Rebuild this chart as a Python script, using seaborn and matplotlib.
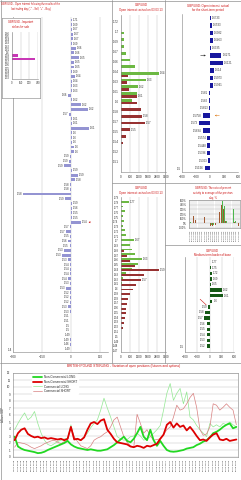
import numpy as np
import pandas as pd
import matplotlib
matplotlib.use("Agg")
import matplotlib.pyplot as plt
import seaborn as sns
from matplotlib.lines import Line2D
from matplotlib.ticker import MultipleLocator

# ---------------- DATA ----------------
left_labels = ["1.71","1.69","1.67","1.67","1.67","1.69","1.66","1.66","1.65","1.65",
               "1.65","1.69","1.64","1.64","1.63","1.63","1.66","1.62","1.62","1.62",
               "1.57","1.61","1.61","1.61","1.6","1.6","1.6","1.6","1.6","1.59",
               "1.59","1.59","1.59","1.59","1.58","1.58","1.58","1.58","1.59","1.59",
               "1.56","1.55","1.55","1.54","1.57","1.57","1.55","1.56","1.55","1.53",
               "1.53","1.53","1.54","1.54","1.54","1.54","1.53","1.53","1.52","1.52",
               "1.52","1.53","1.53","1.51","1.51","1.5","1.5","1.49","1.49","1.46","1.49"]
left_values = [5, 3, 3, 8, 10, 3, 25, 15, 38, 15,
               15, 4, 20, 4, 5, 3, -15, 4, 50, 85,
               -12, 3, 5, 90, 3, 4, 3, 15, 15, -8,
               -10, -35, 5, 35, 20, -6, -5, -250, -30, 5,
               4, 3, 6, 50, -8, -25, -6, -15, -8, -35,
               -45, -15, -4, -5, -4, -15, -4, -25, -6, -4,
               -4, -15, -5, -3, -3, -3, -3, -3, -4, -4, -3]
left_xticks = [-300, -150, 0, 150]

inset_strikes = ["1.66","1.65","1.64","1.63","1.62","1.61","1.6","1.59","1.58",
                 "1.57","1.56","1.55","1.54","1.53","1.52"]
inset_values = [0, 0, 0, 0, 0, 0, 0, 110, 400, 0, 0, 0, 0, 0, 0]
inset_xticks = [0, 150, 300, 450]

mt_strikes = [1.72, 1.71, 1.70, 1.69, 1.68, 1.67, 1.66, 1.65, 1.64, 1.63,
              1.62, 1.61, 1.60, 1.59, 1.58, 1.57, 1.56, 1.55, 1.54]
mt_calls = [0, 0, 170, 170, 200, 350, 620, 940, 2500, 1670,
            1150, 1040, 730, 0, 0, 0, 0, 0, 0]
mt_puts = [0, 0, 0, 0, 0, 0, 0, 0, 460, 420,
           520, 1040, 1040, 1350, 1400, 1600, 620, 310, 100]
mt_call_tags = ["", "", "", "", "", "", "", "", "1.64", "1.63",
                "1.62", "", "", "", "", "", "", "", ""]
mt_put_tags = ["", "", "", "", "", "", "", "", "", "",
               "", "1.61", "", "", "1.58", "1.57", "1.55", "", ""]
mt_yticks = [1.72, 1.705, 1.69, 1.675, 1.66, 1.645, 1.63, 1.615, 1.60,
             1.585, 1.57, 1.555, 1.54, 1.525, 1.51]
mt_yticklabels = ["1.72","1.7","1.69","1.67","1.66","1.64","1.63","1.61","1.6",
                  "1.58","1.57","1.55","1.54","1.52","1.51"]
mid_xticks = [0, 600, 1200, 1800, 2400, 3000]

mb_strikes = [1.78, 1.77, 1.76, 1.75, 1.74, 1.73, 1.72, 1.71, 1.70, 1.69,
              1.68, 1.67, 1.66, 1.65, 1.64, 1.63, 1.62, 1.61, 1.60, 1.59,
              1.58, 1.57, 1.56, 1.55, 1.54, 1.53, 1.52, 1.51, 1.50, 1.49, 1.48]
mb_calls = [500, 120, 250, 120, 200, 150, 250, 300, 870, 600,
            700, 900, 1400, 1100, 700, 300, 150, 60, 0, 0,
            0, 0, 0, 0, 0, 0, 0, 0, 0, 0, 0]
mb_puts = [0, 0, 0, 0, 0, 0, 0, 0, 0, 0,
           200, 400, 600, 900, 2550, 1500, 1300, 1000, 800, 600,
           450, 400, 350, 300, 250, 200, 100, 0, 0, 0, 0]
mb_call_tags = ["1.77", "", "", "", "", "", "", "", "1.67", "",
                "", "", "1.63", "", "", "", "", "", "", "",
                "", "", "", "", "", "", "", "", "", "", ""]
mb_put_tags = ["", "", "", "", "", "", "", "", "", "",
               "", "", "", "", "1.59", "", "1.57", "", "", "",
               "", "", "", "", "", "", "", "", "", "", ""]
mb_yticks = [1.79, 1.78, 1.77, 1.76, 1.75, 1.74, 1.73, 1.72, 1.71, 1.70,
             1.69, 1.68, 1.67, 1.66, 1.65, 1.64, 1.63, 1.62, 1.61, 1.60,
             1.59, 1.58, 1.57, 1.56, 1.55, 1.54, 1.53, 1.52, 1.51, 1.50,
             1.49, 1.48, 1.47]

rt_labels = ["1.6733","1.6533","1.6382","1.6463","1.6335","1.6271","1.6121",
             "1.614","1.5973","1.5941","1.581","1.582","1.5813","1.5758",
             "1.573","1.5694","1.5574","1.5448","1.5386","1.5303","1.5156"]
rt_values = [20, 40, 60, 60, 20, 240, 280, 80, 60, 60, -20, -20, -20, -160,
             -230, -150, -60, -60, -60, -40, -110]
side_xticks = [-600, -300, 0, 300, 600]

rm_dates = ["29.01.2013","30.01.2013","31.01.2013","01.02.2013","04.02.2013",
            "05.02.2013","06.02.2013","07.02.2013","08.02.2013","11.02.2013",
            "12.02.2013","13.02.2013","14.02.2013","15.02.2013","18.02.2013",
            "19.02.2013","20.02.2013","21.02.2013","22.02.2013","25.02.2013",
            "26.02.2013","27.02.2013","28.02.2013","01.03.2013"]
rm_brown = [0, 0, 150, 80, 0, 0, 0, 130, 0, 0, -50, -60, -40, 0, 250, 400,
            300, 40, 0, 0, 0, 30, 0, -50]
rm_green = [20, 10, 0, 0, 0, 0, 0, 0, 0, 0, -40, -30, 0, 10, 0, 470,
            380, 60, 0, 0, 300, 40, 0, 0]
rm_yticks = [-100, 0, 100, 200, 300, 400, 500]
rm_yticklabels = ["-100%", "0%", "100%", "200%", "300%", "400%", "500%"]

rb_labels = ["1.77","1.75","1.72","1.69","1.65","1.62","1.61","1.6","1.59",
             "1.58","1.57","1.56","1.55","1.54","1.53","1.52"]
rb_values = [20, 30, 50, 50, 30, 300, 330, 70, -40, -110, -140, -70, -70, -70, -70, -70]

bottom_dates = [
    "08.01.2008","05.02.2008","04.03.2008","01.04.2008","06.05.2008","03.06.2008",
    "01.07.2008","05.08.2008","02.09.2008","07.10.2008","04.11.2008","02.12.2008",
    "06.01.2009","03.02.2009","03.03.2009","07.04.2009","05.05.2009","02.06.2009",
    "07.07.2009","04.08.2009","01.09.2009","06.10.2009","03.11.2009","01.12.2009",
    "05.01.2010","02.02.2010","02.03.2010","06.04.2010","04.05.2010","01.06.2010",
    "06.07.2010","03.08.2010","07.09.2010","05.10.2010","02.11.2010","07.12.2010",
    "04.01.2011","01.02.2011","01.03.2011","05.04.2011","03.05.2011","07.06.2011",
    "05.07.2011","02.08.2011","06.09.2011","04.10.2011","01.11.2011","06.12.2011",
    "03.01.2012","07.02.2012","06.03.2012","03.04.2012","01.05.2012","05.06.2012",
    "03.07.2012","07.08.2012","04.09.2012","02.10.2012","06.11.2012","04.12.2012",
    "08.01.2013","05.02.2013","05.03.2013","02.04.2013","07.05.2013","04.06.2013",
    "02.07.2013","06.08.2013"]
nc_short = [2.4, 3.4, 3.9, 4.1, 3.3, 3.0, 2.8, 2.9, 2.7, 2.8, 2.6, 2.7, 2.6, 2.5, 2.6, 2.4,
            2.6, 4.3, 2.5, 2.6, 2.4, 2.8, 3.9, 4.8, 5.0, 4.7, 5.2, 5.4, 3.9, 3.3, 2.6, 2.1,
            2.0, 1.9, 1.8, 1.5, 1.4, 1.6, 1.5, 1.3, 1.6, 1.5, 1.7, 1.9, 2.6, 3.2, 4.6, 5.0,
            4.2, 4.8, 4.3, 4.5, 3.8, 4.3, 3.7, 3.0, 2.4, 2.5, 2.3, 2.8, 3.2, 3.4, 2.5, 2.4,
            2.6, 2.3, 2.4, 2.5]
nc_long = [2.9, 1.5, 1.2, 1.0, 0.9, 0.8, 0.7, 0.55, 0.6, 0.75, 1.0, 1.2, 1.4, 1.6, 1.8, 2.0,
           2.3, 1.8, 1.5, 1.3, 1.2, 1.1, 1.0, 1.1, 1.0, 0.9, 0.9, 1.0, 1.1, 1.4, 1.7, 2.1,
           2.5, 2.9, 2.3, 2.1, 2.6, 3.4, 4.3, 2.9, 2.4, 3.9, 2.4, 1.6, 2.3, 1.6, 1.0, 0.8,
           0.75, 0.8, 0.9, 1.0, 1.2, 1.3, 1.4, 1.7, 1.9, 2.2, 2.4, 2.8, 3.4, 3.6, 3.9, 4.3,
           4.6, 4.8, 4.1, 4.3]
c_long = [3.9, 4.8, 5.6, 6.3, 5.3, 5.7, 6.5, 4.8, 3.4, 2.4, 1.8, 1.6, 1.9, 2.2, 2.4, 2.6,
          2.6, 4.6, 2.6, 2.5, 2.4, 2.9, 3.4, 4.2, 4.8, 5.3, 6.7, 8.4, 7.0, 5.7, 4.3, 2.9,
          2.6, 2.4, 2.5, 2.9, 3.0, 3.4, 3.0, 2.4, 2.6, 2.9, 3.4, 3.9, 4.5, 6.7, 9.1, 10.5,
          8.1, 9.1, 9.8, 7.6, 9.3, 5.7, 5.3, 4.5, 3.9, 3.4, 2.9, 4.8, 4.3, 4.6, 4.3, 4.8,
          4.6, 5.0, 4.6, 4.3]
c_short = [1.4, 2.1, 2.0, 1.9, 1.7, 1.4, 1.2, 1.4, 1.6, 1.9, 2.1, 2.3, 2.4, 2.1, 1.9, 2.2,
           2.4, 4.3, 2.9, 2.2, 1.6, 1.4, 1.2, 1.6, 2.4, 2.7, 2.9, 3.3, 3.6, 4.3, 5.3, 5.7,
           4.3, 2.9, 2.1, 1.6, 1.4, 6.1, 4.8, 3.4, 3.9, 3.0, 2.4, 2.5, 2.6, 3.2, 3.9, 4.3,
           5.7, 7.4, 6.7, 6.9, 7.6, 8.5, 9.1, 7.1, 3.9, 3.1, 3.3, 4.3, 7.6, 7.4, 6.7, 7.1,
           7.6, 7.1, 6.7, 4.6]
bottom_yticks = [0, 1, 2, 3, 4, 5, 6, 7, 8, 9, 10, 11, 12]

# ---------------- STYLE ----------------
sns.set_theme(style="white")
plt.rcParams.update({
    "font.family": ["Liberation Sans", "DejaVu Sans"],
    "font.size": 2.2,
    "axes.linewidth": 0.4,
    "axes.edgecolor": "#808080",
    "xtick.major.size": 1, "ytick.major.size": 1,
    "xtick.major.width": 0.3, "ytick.major.width": 0.3,
    "xtick.minor.size": 0, "ytick.minor.size": 0,
    "xtick.major.pad": 0.8, "ytick.major.pad": 0.8,
    "xtick.labelsize": 2.2, "ytick.labelsize": 2.2,
    "xtick.color": "#303030", "ytick.color": "#303030",
    "grid.color": "#b8b8b8", "grid.linewidth": 0.3,
    "axes.facecolor": "white",
})

W, H = 241, 480
RED = "#cc1010"
TAG = 2.0
fig = plt.figure(figsize=(W / 100, H / 100), dpi=100, facecolor="white")


def px_axes(x0, y0, x1, y1):
    return fig.add_axes([x0 / W, 1 - y1 / H, (x1 - x0) / W, (y1 - y0) / H])


def fig_text(x, y, s, **kw):
    fig.text(x / W, 1 - y / H, s, **kw)


def fig_line(x0, y0, x1, y1):
    fig.add_artist(Line2D([x0 / W, x1 / W], [1 - y0 / H, 1 - y1 / H],
                          transform=fig.transFigure, color="#909090", lw=0.5))


def tag_bars(ax, vals, poss, tags, pad, fs=TAG):
    for v, p, t in zip(vals, poss, tags):
        if t == "":
            continue
        if v >= 0:
            ax.text(v + pad, p, t, ha="left", va="center", fontsize=fs, color="#303030")
        else:
            ax.text(v - pad, p, t, ha="right", va="center", fontsize=fs, color="#303030")


def clean(ax):
    ax.set_xlabel("")
    ax.set_ylabel("")


# ---------------- LEFT PANEL ----------------
axL = px_axes(13, 17, 108, 352)
posL = list(range(len(left_values)))
dfL = pd.DataFrame({"pos": posL, "val": left_values})
sns.barplot(data=dfL, x="val", y="pos", orient="y", native_scale=True,
            color="#8a8adc", width=0.62, errorbar=None, linewidth=0, ax=axL)
axL.set_ylim(len(left_values) - 0.4, -0.64)
axL.set_xlim(-300, 190)
axL.set_xticks(left_xticks)
axL.set_yticks([posL[-1]])
axL.set_yticklabels(["1.4"])
axL.tick_params(axis="y", length=0)
axL.grid(axis="x")
axL.grid(axis="y", visible=False)
for s in ["top", "right"]:
    axL.spines[s].set_visible(False)
clean(axL)
tag_bars(axL, left_values, posL, left_labels, 4)
axL.annotate("", xy=(75, 43), xytext=(112, 43),
             arrowprops=dict(arrowstyle="->", color=RED, lw=0.4))
fig_text(31, 2.5, "GBP/USD - Open interest following the results of the\nlast trading day (\"-\" - Sell, \"+\" - Buy)",
         color=RED, fontsize=1.8, ha="center", va="top", multialignment="center")

# inset box
axIB = px_axes(2, 18, 40, 98)
axIB.set_xticks([])
axIB.set_yticks([])
axIB.set_facecolor("white")
axIB.text(0.5, 0.97, "GBP/USD - Important\nstrikes for sale", color=RED,
          fontsize=1.9, ha="center", va="top", transform=axIB.transAxes)
axI = px_axes(12, 32, 38, 79)
sns.barplot(x=inset_values, y=inset_strikes, orient="y", color="#e020c8",
            width=0.7, errorbar=None, linewidth=0, ax=axI)
axI.set_xlim(0, 450)
axI.set_xticks(inset_xticks)
axI.grid(axis="x")
axI.tick_params(labelsize=1.9)
for s in ["top", "right"]:
    axI.spines[s].set_visible(False)
clean(axI)


# ---------------- MIDDLE TOP ----------------
def dual_bars(ax, strikes, calls, puts):
    n = len(strikes)
    df = pd.DataFrame({"strike": list(strikes) * 2, "val": list(calls) + list(puts),
                       "type": ["Call"] * n + ["Put"] * n})
    sns.barplot(data=df, x="val", y="strike", hue="type", hue_order=["Put", "Call"],
                palette={"Call": "#66cc2e", "Put": "#a82020"}, orient="y",
                native_scale=True, width=0.8, errorbar=None, linewidth=0,
                legend=False, ax=ax)


axMT = px_axes(121, 15, 166, 172)
dual_bars(axMT, mt_strikes, mt_calls, mt_puts)
axMT.set_ylim(1.495, 1.729)
axMT.set_yticks(mt_yticks)
axMT.set_yticklabels(mt_yticklabels)
axMT.set_xlim(0, 3000)
axMT.set_xticks(mid_xticks)
axMT.grid(axis="x")
for s in ["top", "right"]:
    axMT.spines[s].set_visible(False)
clean(axMT)
tag_bars(axMT, mt_calls, [s + 0.002 for s in mt_strikes], mt_call_tags, 60)
tag_bars(axMT, mt_puts, [s - 0.002 for s in mt_strikes], mt_put_tags, 60)
fig_text(141, 3, "GBP/USD\nOpen interest: actual on 03.03.13", color=RED,
         fontsize=2.1, ha="center", va="top", multialignment="center")

# ---------------- MIDDLE BOTTOM ----------------
axMB = px_axes(121, 197, 166, 352)
dual_bars(axMB, mb_strikes, mb_calls, mb_puts)
axMB.set_ylim(1.467, 1.792)
axMB.set_yticks(mb_yticks)
axMB.set_yticklabels([f"{v:g}" for v in mb_yticks])
axMB.tick_params(axis="y", labelsize=1.9)
axMB.set_xlim(0, 3000)
axMB.set_xticks(mid_xticks)
axMB.grid(axis="x")
for s in ["top", "right"]:
    axMB.spines[s].set_visible(False)
clean(axMB)
tag_bars(axMB, mb_calls, [s + 0.002 for s in mb_strikes], mb_call_tags, 60)
tag_bars(axMB, mb_puts, [s - 0.002 for s in mb_strikes], mb_put_tags, 60)
fig_text(141, 186, "GBP/USD\nOpen interest: actual on 03.03.13", color=RED,
         fontsize=2.1, ha="center", va="top", multialignment="center")

# ---------------- RIGHT TOP ----------------
axRT = px_axes(182, 14, 238, 172)
posRT = list(range(len(rt_values)))
sns.barplot(x=rt_values, y=posRT, orient="y", native_scale=True, color="#0000b4",
            width=0.55, errorbar=None, linewidth=0, ax=axRT)
axRT.set_ylim(len(rt_values) - 0.47, -0.53)
axRT.set_xlim(-600, 600)
axRT.set_xticks(side_xticks)
axRT.set_yticks([posRT[-1]])
axRT.set_yticklabels(["1.5"])
axRT.tick_params(axis="y", length=0)
for s in ["top", "right"]:
    axRT.spines[s].set_visible(False)
clean(axRT)
tag_bars(axRT, rt_values, posRT, rt_labels, 25)
axRT.annotate("", xy=(-30, 5), xytext=(-260, 5),
              arrowprops=dict(arrowstyle="->", color="#202020", lw=0.4))
axRT.annotate("", xy=(40, 13), xytext=(260, 13),
              arrowprops=dict(arrowstyle="->", color="#e08020", lw=0.4))
fig_text(208, 3.5, "GBP/USD: Open interest: actual\nfor the short-term period", color=RED,
         fontsize=2.1, ha="center", va="top", multialignment="center")

# ---------------- RIGHT MIDDLE ----------------
axRM = px_axes(189, 200, 240, 228)
nrm = len(rm_dates)
dfRM = pd.DataFrame({"date": rm_dates * 2, "val": rm_brown + rm_green,
                     "series": ["brown"] * nrm + ["green"] * nrm})
sns.barplot(data=dfRM, x="date", y="val", hue="series",
            palette={"brown": "#b4521e", "green": "#3cc83c"}, width=0.9,
            errorbar=None, linewidth=0, legend=False, ax=axRM)
axRM.set_ylim(-100, 500)
axRM.set_yticks(rm_yticks)
axRM.set_yticklabels(rm_yticklabels)
axRM.tick_params(axis="x", labelrotation=90, labelsize=1.6, length=0.6)
axRM.tick_params(axis="y", labelsize=1.9)
axRM.grid(axis="both")
clean(axRM)
fig_text(213, 186.5, "GBP/USD: The ratio of present\nactivity to average of the previous\nday, %",
         color=RED, fontsize=1.9, ha="center", va="top", multialignment="center")

# ---------------- RIGHT BOTTOM ----------------
axRB = px_axes(185, 257, 234, 352)
posRB = list(range(len(rb_values)))
sns.barplot(x=rb_values, y=posRB, orient="y", native_scale=True, color="#0a640a",
            width=0.6, errorbar=None, linewidth=0, ax=axRB)
axRB.set_ylim(len(rb_values) + 0.07, -0.9)
axRB.set_xlim(-600, 600)
axRB.set_xticks(side_xticks)
axRB.set_yticks([posRB[-1]])
axRB.set_yticklabels(["1.5"])
axRB.tick_params(axis="y", length=0)
axRB.grid(axis="x")
for s in ["top", "right"]:
    axRB.spines[s].set_visible(False)
clean(axRB)
tag_bars(axRB, rb_values, posRB, rb_labels, 25)
axRB.annotate("", xy=(-30, 8), xytext=(-280, 6.3),
              arrowprops=dict(arrowstyle="-", color=RED, lw=0.4))
fig_text(212, 248.5, "GBP/USD\nMedium-term border of base", color=RED,
         fontsize=2.1, ha="center", va="top", multialignment="center")

# ---------------- BOTTOM LINE CHART ----------------
axB = px_axes(13, 373, 238, 457)
bx = list(range(len(bottom_dates)))
sns.lineplot(x=bx, y=c_long, color="#92e892", linewidth=0.5, label="Commercial LONG", ax=axB)
sns.lineplot(x=bx, y=c_short, color="#d88080", linewidth=0.5, label="Commercial SHORT", ax=axB)
sns.lineplot(x=bx, y=nc_long, color="#22d822", linewidth=1.3, label="Non-Commercial LONG", ax=axB)
sns.lineplot(x=bx, y=nc_short, color="#dd0000", linewidth=1.3, label="Non-Commercial SHORT", ax=axB)
axB.set_xlim(-0.5, len(bx) - 0.5)
axB.set_ylim(0, 12)
axB.set_yticks(bottom_yticks)
axB.set_xticks(bx)
axB.set_xticklabels(bottom_dates, rotation=90, fontsize=1.7)
axB.tick_params(axis="x", length=0.6)
axB.xaxis.set_minor_locator(MultipleLocator(3))
axB.grid(axis="y", which="major")
axB.grid(axis="x", which="minor")
clean(axB)
axB.set_ylabel("billions GBP", fontsize=2.0, labelpad=1.5)
h, l = axB.get_legend_handles_labels()
order = [2, 3, 0, 1]
leg = axB.legend([h[i] for i in order], [l[i] for i in order], loc="upper left",
                 bbox_to_anchor=(0.08, 1.0), fontsize=2.1, handlelength=3,
                 frameon=True, framealpha=1, facecolor="white", edgecolor="white",
                 borderpad=0.2, labelspacing=0.25)
fig_text(124, 366.5, "BRITISH POUND STERLING - Variation of open positions (futures and options)",
         color=RED, fontsize=2.3, ha="center", va="center")

# ---------------- SEPARATORS ----------------
fig_line(112, 0, 112, 363)
fig_line(165, 0, 165, 363)
fig_line(112, 183, 241, 183)
fig_line(165, 245, 241, 245)
fig_line(0, 362.5, 241, 362.5)
fig_line(0.5, 0, 0.5, 480)
fig_line(240.5, 0, 240.5, 480)
fig_line(0, 0.5, 241, 0.5)
fig_line(0, 479.5, 241, 479.5)

fig.savefig("out.png", dpi=100, facecolor="white")
